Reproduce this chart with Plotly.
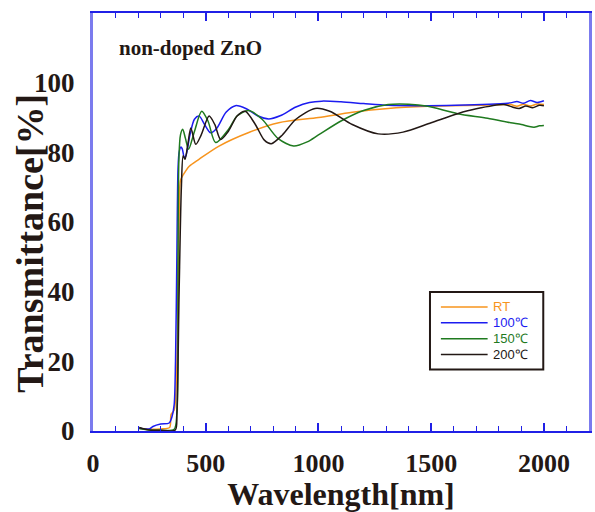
import plotly.graph_objects as go

# Transmittance spectra of non-doped ZnO films (wavelength in nm, T in %)
wl_rt = [205, 250, 300, 340, 346, 360, 370, 378, 383, 388, 400, 427, 470, 559, 691, 824,
         1000, 1150, 1309, 1485, 1700, 1851, 1880, 1910, 1940, 1970, 2000]
t_rt = [0.8, 0.5, 0.6, 1.0, 4.7, 6.0, 15, 45, 65, 72, 73.5, 76, 78, 81.8, 85.7, 88.5,
        90.0, 91.5, 92.6, 93.2, 93.5, 93.7, 93.2, 93.8, 93.3, 93.9, 93.7]

wl_100 = [205, 250, 266, 300, 338, 350, 360, 366, 372, 377, 382, 390, 396, 405, 412, 430,
          450, 471, 495, 522, 550, 590, 632, 680, 730, 779, 830, 900, 960, 1015, 1100,
          1200, 1309, 1485, 1650, 1851, 1880, 1910, 1940, 1970, 2000]
t_100 = [0.8, 0.6, 1.3, 2.0, 2.3, 4.0, 7.5, 20, 50, 75, 80, 81.5, 81, 78.5, 79, 85,
         89.5, 90.4, 88, 85.6, 87, 91.5, 93.4, 92.5, 90.5, 89.6, 90.5, 93, 94.3, 94.7, 94.5,
         94.0, 93.5, 93.4, 93.6, 94.2, 94.6, 94.1, 94.9, 94.3, 94.8]

wl_150 = [205, 250, 300, 360, 372, 377, 381, 388, 398, 410, 424, 450, 482, 510, 544, 600,
          640, 690, 750, 820, 890, 950, 1000, 1100, 1200, 1309, 1400, 1485, 1617, 1750,
          1853, 1900, 1930, 1956, 1980, 2000]
t_150 = [0.7, 0.3, 0.2, 0.5, 5, 50, 78, 85, 86.6, 84, 80.9, 86, 91.8, 89, 82.8, 86.5,
         90.5, 92, 89.5, 84, 81.8, 83, 85, 89, 92, 93.7, 93.8, 93.2, 91.1, 89.8,
         88.5, 88.0, 87.5, 87.2, 87.6, 87.7]

wl_200 = [205, 250, 300, 365, 372, 382, 392, 400, 408, 420, 434, 456, 480, 515, 540, 566,
          600, 640, 675, 720, 760, 791, 840, 900, 985, 1050, 1150, 1265, 1375, 1500, 1617,
          1700, 1823, 1860, 1890, 1920, 1950, 1980, 2000]
t_200 = [1.0, 0.3, 0.2, 0.3, 5, 40, 70, 79, 78, 82, 87, 82.3, 85, 90.4, 88, 83.7,
         86, 90.5, 91.8, 88, 83.5, 82.5, 85, 89.5, 92.6, 91.8, 88, 85.3, 85.8, 88.5, 91.1,
         92.5, 93.7, 93.0, 92.6, 93.3, 92.8, 93.5, 93.4]

series_names = ["RT", "100\u2103", "150\u2103", "200\u2103"]
series_colors = ["#f7941d", "#1c1cf0", "#1f7a1f", "#231815"]
series_data = [(wl_rt, t_rt), (wl_100, t_100), (wl_150, t_150), (wl_200, t_200)]

x_ticks = [0, 500, 1000, 1500, 2000]
y_ticks = [0, 20, 40, 60, 80, 100]

serif = "Liberation Serif, Times New Roman, serif"
sans = "Liberation Sans, Arial, sans-serif"
ink = "#231815"
frame_blue = "#2020e6"
side_blue = "#7b7bee"

fig = go.Figure()
for name, (wl, t), color in zip(series_names, series_data, series_colors):
    fig.add_trace(go.Scatter(
        x=wl, y=t, mode="lines", name=name, showlegend=False,
        line=dict(color=color, width=1.5, shape="spline", smoothing=0.8),
    ))

# Boxed key in the lower right: a short line sample plus coloured label per series
shapes = [dict(type="rect", xref="paper", yref="paper",
               x0=0.6794, x1=0.9078, y0=0.1473, y1=0.3325,
               line=dict(color=ink, width=2), fillcolor="white", layer="above")]
annotations = []
key_rows = [0.2969, 0.2589, 0.2209, 0.1829]
for name, color, yk in zip(series_names, series_colors, key_rows):
    shapes.append(dict(type="line", xref="paper", yref="paper",
                       x0=0.7014, x1=0.7956, y0=yk, y1=yk,
                       line=dict(color=color, width=1.5), layer="above"))
    annotations.append(dict(text=name, xref="paper", yref="paper", x=0.8036, y=yk,
                            xanchor="left", yanchor="middle", showarrow=False,
                            borderpad=0,
                            font=dict(family=sans, size=13, color=color)))

annotations.append(dict(
    text="non-doped ZnO", xref="paper", yref="paper", x=0.048, y=0.917,
    xanchor="left", yanchor="middle", showarrow=False,
    font=dict(family=serif, size=21, color=ink, weight="bold"),
))
annotations.append(dict(
    text="Transmittance[%]", xref="paper", yref="paper", x=-0.126, y=0.449,
    xanchor="center", yanchor="middle", showarrow=False, textangle=-90,
    font=dict(family=serif, size=38, color=ink, weight="bold"),
))

fig.update_layout(
    width=595, height=512,
    margin=dict(l=93, r=3, t=13, b=78),
    paper_bgcolor="white", plot_bgcolor="white",
    showlegend=False,
    shapes=shapes,
    annotations=annotations,
    xaxis=dict(
        range=[0, 2200], tickvals=x_ticks,
        ticks="inside", ticklen=8, tickwidth=1.5, tickcolor=frame_blue,
        minor=dict(dtick=100, ticks="inside", ticklen=5, tickwidth=1.2, tickcolor=frame_blue),
        showline=True, linecolor=frame_blue, linewidth=2, mirror="ticks",
        showgrid=False, zeroline=False,
        tickfont=dict(family=serif, size=26, color=ink, weight="bold"),
        ticklabelstandoff=8,
        title=dict(text="Wavelength[nm]", font=dict(family=serif, size=32, color=ink, weight="bold"),
                   standoff=8),
    ),
    yaxis=dict(
        range=[0, 120], tickvals=y_ticks, ticks="",
        showline=True, linecolor=side_blue, linewidth=3, mirror=True,
        showgrid=False, zeroline=False,
        tickfont=dict(family=serif, size=27, color=ink, weight="bold"),
        ticklabelstandoff=10,
    ),
)

fig.write_html("out.html")
